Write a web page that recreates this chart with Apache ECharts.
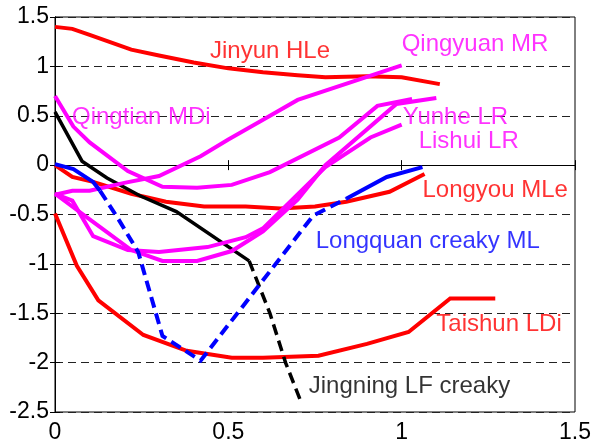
<!DOCTYPE html>
<html>
<head>
<meta charset="utf-8">
<script src="https://cdn.jsdelivr.net/npm/echarts@6/dist/echarts.min.js"></script>
<style>html,body{margin:0;padding:0;background:#fff}#c{width:594px;height:444px}</style>
</head>
<body>
<div id="c"></div>
<script>
// ---- data ----
const jinyun = [[0,1.40],[0.05,1.38],[0.1,1.32],[0.22,1.17],[0.3,1.11],[0.4,1.04],[0.5,0.98],[0.6,0.94],[0.7,0.91],[0.78,0.89],[0.9,0.90],[1.0,0.89],[1.11,0.82]];
const qingyuan = [[0,-0.30],[0.05,-0.26],[0.1,-0.26],[0.2,-0.18],[0.3,-0.11],[0.42,0.09],[0.5,0.26],[0.59,0.44],[0.7,0.66],[1.0,1.01]];
const qingtian = [[0,0.70],[0.053,0.39],[0.1,0.23],[0.21,-0.06],[0.31,-0.22],[0.41,-0.23],[0.51,-0.20],[0.62,-0.07],[0.82,0.28],[0.93,0.60],[1.03,0.67]];
const yunhe = [[0,-0.29],[0.1,-0.55],[0.22,-0.86],[0.31,-0.97],[0.41,-0.97],[0.51,-0.87],[0.6,-0.67],[0.7,-0.35],[0.78,0.0],[0.985,0.62],[1.10,0.68]];
const lishui = [[0,-0.29],[0.05,-0.36],[0.11,-0.72],[0.21,-0.86],[0.30,-0.88],[0.44,-0.83],[0.55,-0.73],[0.6,-0.64],[0.78,-0.02],[0.91,0.28],[1.0,0.41]];
const longyou = [[0,0],[0.05,-0.12],[0.11,-0.17],[0.22,-0.29],[0.32,-0.37],[0.43,-0.42],[0.55,-0.42],[0.65,-0.44],[0.75,-0.42],[0.84,-0.37],[0.965,-0.27],[1.066,-0.09]];
const longquanSolidA = [[0,0.01],[0.053,-0.04],[0.11,-0.17],[0.13,-0.26]];
const longquanDashed = [[0.13,-0.26],[0.18,-0.53],[0.24,-0.88],[0.31,-1.73],[0.42,-1.98],[0.745,-0.51],[0.84,-0.34]];
const longquanSolidB = [[0.84,-0.34],[0.957,-0.12],[1.06,-0.02]];
const jingningSolid = [[0,0.54],[0.078,0.04],[0.15,-0.13],[0.245,-0.31],[0.35,-0.47],[0.56,-0.97]];
const jingningDashed = [[0.56,-0.97],[0.62,-1.5],[0.665,-2.0],[0.71,-2.40]];
const taishun = [[0,-0.49],[0.063,-1.02],[0.125,-1.37],[0.255,-1.72],[0.38,-1.88],[0.51,-1.95],[0.6,-1.95],[0.76,-1.93],[0.9,-1.81],[1.02,-1.69],[1.14,-1.35],[1.27,-1.35]];

const labelNames = ['Jinyun HLe','Qingyuan MR','Qingtian MDi','Yunhe LR','Lishui LR','Longyou MLe','Longquan creaky ML','Taishun LDi','Jingning LF creaky'];
const labelX = [0.447,1.0,0.049,1.003,1.049,1.06,0.752,1.10,0.732];
const labelY = [1.15,1.22,0.485,0.485,0.24,-0.26,-0.77,-1.61,-2.24];
const labelColors = ['#ff0000','#ff00ff','#ff00ff','#ff00ff','#ff00ff','#ff0000','#0000ff','#ff0000','#000000'];

const xTicks = [0,0.5,1,1.5];
const yTicks = [-2.5,-2,-1.5,-1,-0.5,0,0.5,1,1.5];

// ---- chart ----
const RED='#ff0000', MAG='#ff00ff', BLUE='#0000ff', BLK='#000000';
function line(data,color,width,type){
  return {type:'line',data:data,symbol:'none',silent:true,animation:false,
    lineStyle:{color:color,width:width,type:type||'solid',cap:'butt',join:'miter'}};
}
const font = '"Liberation Sans", Arial, sans-serif';
const chart = echarts.init(document.getElementById('c'),null,{renderer:'canvas'});
chart.setOption({
  animation:false,
  grid:{left:55,top:17,right:19,bottom:31,show:true,borderColor:'#000',borderWidth:1,backgroundColor:'transparent'},
  xAxis:[
    {type:'value',min:xTicks[0],max:xTicks[xTicks.length-1],interval:0.5,position:'bottom',
     axisLine:{show:true,lineStyle:{color:'#000',width:1}},
     axisTick:{show:true,inside:true,length:5,lineStyle:{color:'#000'}},
     axisLabel:{color:'#000',fontSize:23,fontFamily:font,margin:9},
     splitLine:{show:false}},
    {type:'value',min:xTicks[0],max:xTicks[xTicks.length-1],interval:0.5,position:'top',
     axisLine:{show:true,lineStyle:{color:'#000',width:1}},
     axisTick:{show:true,inside:true,length:5,lineStyle:{color:'#000'}},
     axisLabel:{show:false},splitLine:{show:false}}
  ],
  yAxis:[
    {type:'value',min:yTicks[0],max:yTicks[yTicks.length-1],interval:0.5,position:'left',
     axisLine:{show:true,lineStyle:{color:'#000',width:1}},
     axisTick:{show:true,inside:true,length:5,lineStyle:{color:'#000'}},
     axisLabel:{color:'#000',fontSize:23,fontFamily:font,margin:6},
     splitLine:{show:true,lineStyle:{color:'#222',width:1,type:[8,5]}}},
    {type:'value',min:yTicks[0],max:yTicks[yTicks.length-1],interval:0.5,position:'right',
     axisLine:{show:true,lineStyle:{color:'#000',width:1}},
     axisTick:{show:true,inside:true,length:5,lineStyle:{color:'#000'}},
     axisLabel:{show:false},splitLine:{show:false}}
  ],
  series:[
    line(jinyun,RED,4),
    line(longyou,RED,4),
    line(taishun,RED,4),
    line(jingningSolid,BLK,3.5),
    line(jingningDashed,BLK,3.5,[11,6]),
    line(qingyuan,MAG,4),
    line(qingtian,MAG,4),
    line(yunhe,MAG,4),
    line(lishui,MAG,4),
    line(longquanSolidA,BLUE,4),
    line(longquanDashed,BLUE,4,[11,6]),
    line(longquanSolidB,BLUE,4),
    {type:'scatter',symbolSize:0,silent:true,animation:false,
     data:labelNames.map((n,i)=>({value:[labelX[i],labelY[i]],name:n,
       label:{show:true,position:'right',distance:0,formatter:n,color:labelColors[i],
         fontSize:24,fontFamily:font,verticalAlign:'middle'}}))}
  ]
});
</script>
</body>
</html>
